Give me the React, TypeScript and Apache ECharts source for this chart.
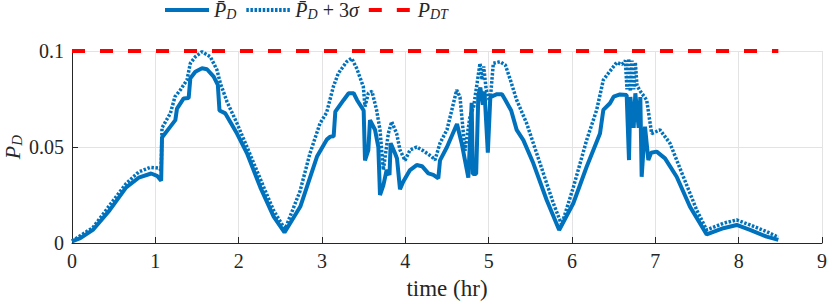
import React, { useEffect, useRef } from "react";
import * as echarts from "echarts";

// ---- data ----
const meanTime = [
  0.0, 0.1, 0.25, 0.45, 0.65, 0.8, 0.95, 1.02, 1.07, 1.08, 1.18, 1.24, 1.26, 1.34, 1.4, 1.42, 1.48, 1.56,
  1.62, 1.7, 1.75, 1.77, 1.84, 1.98, 2.1, 2.26, 2.42, 2.55, 2.74, 2.94, 3.06, 3.1, 3.14, 3.16, 3.26, 3.32,
  3.38, 3.42, 3.5, 3.516, 3.556, 3.576, 3.636, 3.676, 3.696, 3.736, 3.776, 3.81, 3.824, 3.876, 3.9, 3.936,
  3.976, 4.056, 4.136, 4.2, 4.276, 4.336, 4.396, 4.416, 4.5, 4.6, 4.62, 4.676, 4.756, 4.796, 4.81, 4.85,
  4.876, 4.9, 4.93, 4.95, 4.99, 5.02, 5.1, 5.16, 5.2, 5.27, 5.336, 5.416, 5.536, 5.696, 5.846, 6.016, 6.176,
  6.336, 6.376, 6.456, 6.5, 6.576, 6.656, 6.684, 6.7, 6.74, 6.76, 6.8, 6.82, 6.836, 6.876, 6.916, 6.95,
  7.016, 7.116, 7.256, 7.416, 7.616, 7.816, 7.976, 8.136, 8.336, 8.476,
];
const meanValue = [
  0.0008, 0.0025, 0.0068, 0.017, 0.029, 0.034, 0.0362, 0.035, 0.0325, 0.055, 0.0606, 0.064, 0.07, 0.0753,
  0.0755, 0.0858, 0.0892, 0.091, 0.0905, 0.0867, 0.0823, 0.069, 0.0675, 0.057, 0.0467, 0.029, 0.0137, 0.0055,
  0.019, 0.045, 0.054, 0.0554, 0.0556, 0.0684, 0.0745, 0.078, 0.078, 0.0745, 0.069, 0.043, 0.0484, 0.064,
  0.059, 0.05, 0.025, 0.03, 0.038, 0.0354, 0.052, 0.0467, 0.044, 0.028, 0.032, 0.038, 0.0406, 0.04, 0.0363,
  0.0355, 0.0337, 0.043, 0.05, 0.06, 0.062, 0.052, 0.034, 0.073, 0.036, 0.036, 0.077, 0.081, 0.072, 0.079,
  0.047, 0.076, 0.0775, 0.0775, 0.0745, 0.069, 0.0589, 0.0536, 0.0415, 0.0224, 0.0068, 0.0207, 0.0397,
  0.057, 0.0693, 0.0728, 0.0762, 0.0774, 0.0771, 0.0432, 0.076, 0.06, 0.078, 0.06, 0.076, 0.0345, 0.0606,
  0.0432, 0.047, 0.0476, 0.0441, 0.0345, 0.0189, 0.0045, 0.0077, 0.0094, 0.0068, 0.0033, 0.0016,
];
const upperTime = [
  0.0, 0.25, 0.65, 0.8, 0.94, 1.04, 1.07, 1.08, 1.18, 1.236, 1.3, 1.38, 1.42, 1.48, 1.56, 1.66, 1.74, 1.78,
  1.86, 1.98, 2.1, 2.256, 2.416, 2.536, 2.56, 2.736, 2.856, 2.976, 3.056, 3.136, 3.196, 3.296, 3.356, 3.416,
  3.496, 3.516, 3.556, 3.6, 3.656, 3.696, 3.736, 3.796, 3.836, 3.896, 3.936, 3.996, 4.056, 4.136, 4.216,
  4.316, 4.356, 4.416, 4.5, 4.616, 4.656, 4.716, 4.776, 4.82, 4.896, 4.92, 4.94, 4.97, 5.016, 5.056, 5.136,
  5.2, 5.26, 5.336, 5.456, 5.616, 5.776, 5.876, 6.016, 6.176, 6.296, 6.376, 6.436, 6.536, 6.6, 6.64, 6.66,
  6.68, 6.7, 6.72, 6.74, 6.76, 6.78, 6.82, 6.896, 6.956, 7.056, 7.176, 7.336, 7.496, 7.616, 7.816, 7.976,
  8.136, 8.336, 8.476,
];
const upperValue = [
  0.001, 0.008, 0.031, 0.037, 0.0394, 0.039, 0.038, 0.06, 0.0675, 0.0762, 0.0797, 0.0849, 0.0936, 0.097,
  0.0996, 0.097, 0.0901, 0.0832, 0.0736, 0.0623, 0.05, 0.0337, 0.0172, 0.0085, 0.0075, 0.027, 0.0467,
  0.0623, 0.068, 0.0814, 0.0884, 0.0944, 0.0962, 0.091, 0.0814, 0.071, 0.078, 0.079, 0.069, 0.0589, 0.038,
  0.057, 0.0632, 0.057, 0.0484, 0.043, 0.0484, 0.05, 0.048, 0.045, 0.0432, 0.052, 0.059, 0.0797, 0.076,
  0.048, 0.066, 0.071, 0.0936, 0.085, 0.092, 0.08, 0.073, 0.0936, 0.0944, 0.0927, 0.085, 0.0745, 0.0623,
  0.0415, 0.0207, 0.0095, 0.029, 0.0536, 0.0693, 0.0849, 0.0884, 0.094, 0.093, 0.095, 0.08, 0.096, 0.079,
  0.095, 0.08, 0.094, 0.082, 0.079, 0.0745, 0.057, 0.0589, 0.0519, 0.0345, 0.0172, 0.0068, 0.0103, 0.012,
  0.0094, 0.0059, 0.003,
];
const limitTime = [0, 8.476];
const limitValue = [0.1, 0.1];

const seriesNames = ["mean", "upper", "limit"];
const legendLabels: Record<string, string> = {
  mean: "{p|P\u0304}{s|D}",
  upper: "{p|P\u0304}{s|D}{n| + 3}{p|\u03c3}",
  limit: "{p|P}{s|DT}",
};

const FONT = "Liberation Serif";
const BLUE = "#0072BD";
const RED = "#FF0000";
const AXIS = "#262626";
const GRID = "#e3e3e3";

const pair = (xs: number[], ys: number[]) => xs.map((x, i) => [x, ys[i]]);

export default function App() {
  const ref = useRef<HTMLDivElement>(null);
  useEffect(() => {
    if (!ref.current) return;
    const chart = echarts.init(ref.current, undefined, { renderer: "svg" });
    const lineRich = {
      p: { fontFamily: FONT, fontStyle: "italic", fontSize: 20, color: AXIS, lineHeight: 22 },
      s: { fontFamily: FONT, fontStyle: "italic", fontSize: 14, color: AXIS, lineHeight: 12, verticalAlign: "bottom" },
      n: { fontFamily: FONT, fontSize: 20, color: AXIS, lineHeight: 22 },
    };
    chart.setOption({
      animation: false,
      textStyle: { fontFamily: FONT },
      grid: { left: 72, right: 8, top: 51, bottom: 62, containLabel: false, outerBoundsMode: "none" },
      legend: {
        data: seriesNames,
        left: 163,
        top: 0,
        padding: 0,
        itemWidth: 44,
        itemHeight: 14,
        itemGap: 8,
        itemStyle: { opacity: 0 },
        lineStyle: { width: 4 },
        formatter: (name: string) => legendLabels[name],
        textStyle: { fontFamily: FONT, fontSize: 20, color: AXIS, rich: lineRich },
      },
      xAxis: {
        type: "value",
        min: 0,
        max: 9,
        interval: 1,
        name: "time (hr)",
        nameLocation: "middle",
        nameGap: 34,
        nameMoveOverlap: false,
        nameTextStyle: { fontFamily: FONT, fontSize: 23, color: AXIS },
        axisLine: { show: true, onZero: false, lineStyle: { color: AXIS, width: 1 } },
        axisTick: { show: true, inside: true, length: 6, lineStyle: { color: AXIS, width: 1 } },
        axisLabel: { fontFamily: FONT, fontSize: 20, color: AXIS, margin: 8 },
        splitLine: { show: true, lineStyle: { color: GRID, width: 1 } },
      },
      yAxis: {
        type: "value",
        min: 0,
        max: 0.1,
        interval: 0.05,
        name: "{p|P}{s|D}",
        nameLocation: "middle",
        nameRotate: 90,
        nameGap: 48,
        nameMoveOverlap: false,
        nameTextStyle: {
          fontFamily: FONT,
          color: AXIS,
          rich: {
            p: { fontFamily: FONT, fontStyle: "italic", fontSize: 22, color: AXIS, lineHeight: 24 },
            s: { fontFamily: FONT, fontStyle: "italic", fontSize: 15, color: AXIS, lineHeight: 16, verticalAlign: "bottom" },
          },
        },
        axisLine: { show: true, lineStyle: { color: AXIS, width: 1 } },
        axisTick: { show: true, inside: true, length: 6, lineStyle: { color: AXIS, width: 1 } },
        axisLabel: { fontFamily: FONT, fontSize: 20, color: AXIS, margin: 8 },
        splitLine: { show: true, lineStyle: { color: GRID, width: 1 } },
      },
      series: [
        {
          name: "mean",
          type: "line",
          data: pair(meanTime, meanValue),
          showSymbol: false,
          symbol: "none",
          clip: false,
          lineStyle: { color: BLUE, width: 4 },
          itemStyle: { color: BLUE },
        },
        {
          name: "upper",
          type: "line",
          data: pair(upperTime, upperValue),
          showSymbol: false,
          symbol: "none",
          clip: false,
          lineStyle: { color: BLUE, width: 3.5, type: [2.5, 1.6] },
          itemStyle: { color: BLUE },
        },
        {
          name: "limit",
          type: "line",
          data: pair(limitTime, limitValue),
          showSymbol: false,
          symbol: "none",
          clip: false,
          lineStyle: { color: RED, width: 4, type: [13, 15] },
          itemStyle: { color: RED },
        },
      ],
    });
    return () => chart.dispose();
  }, []);
  return <div ref={ref} style={{ width: 830, height: 305, position: "absolute", left: 0, top: 0 }} />;
}
